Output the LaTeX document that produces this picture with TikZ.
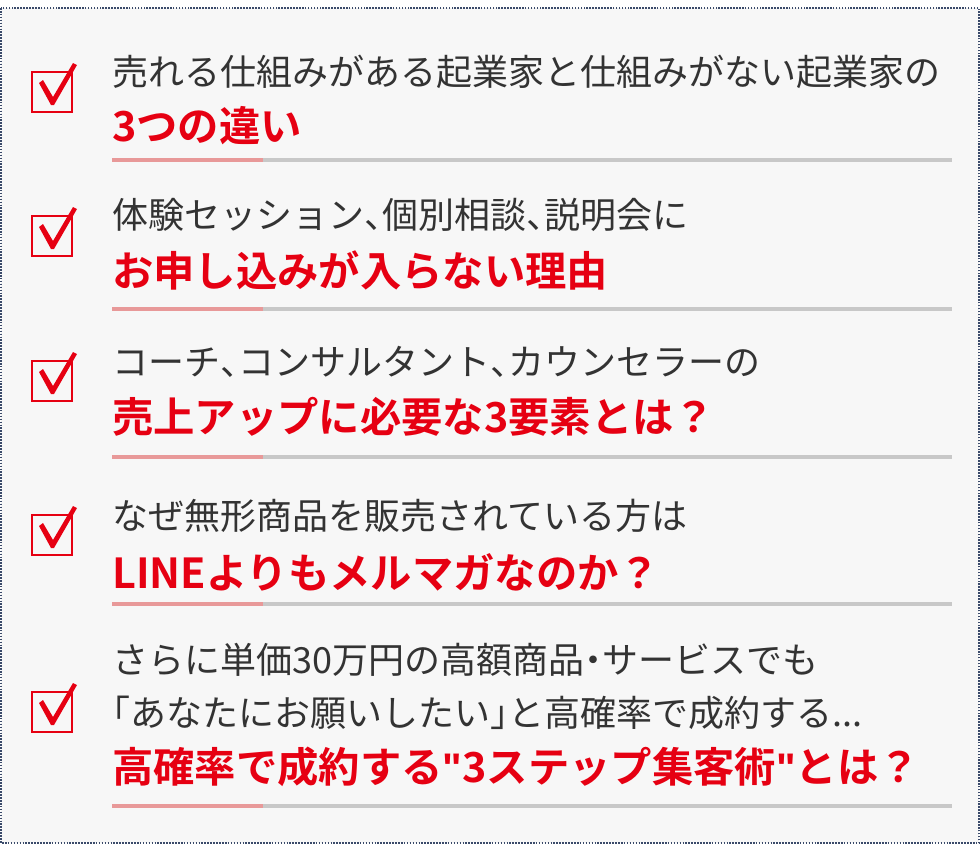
\documentclass[tikz,border=0pt]{standalone}
\usepackage{fontspec}
\setmainfont{Noto Sans CJK JP}[BoldFont={Noto Sans CJK JP Bold}]
\newfontfamily\lat{Liberation Sans}
\definecolor{tx}{HTML}{333333}
\definecolor{rd}{HTML}{E60012}
\definecolor{ln}{HTML}{C8C8C8}
\definecolor{lr}{HTML}{E89999}
\definecolor{bd}{HTML}{3A4A6A}
\newcommand\tn{\makebox[0.5em][l]{、}}
\newcommand\lk{\makebox[0.5em][r]{「}}
\newcommand\rk{\makebox[0.5em][l]{」}}
\newcommand\nk{\makebox[0.5em][c]{・}}
\newcommand\dq{{\lat\bfseries\char"22\relax}}
\tikzset{
 nl/.style={anchor=west,inner sep=0,text=tx,font=\fontsize{27}{30}\selectfont},
 bl/.style={anchor=west,inner sep=0,text=rd,font=\fontsize{31}{34}\selectfont\bfseries},
}
\newcommand\chk[2]{%
 \draw[rd,line width=2pt] (#1-20,#2-20) rectangle (#1+20,#2+20);
 \fill[rd] (#1-13,#2-9) -- (#1-9,#2-12) -- (#1+1,#2+5) -- (#1+21,#2-29) -- (#1+25,#2-27) -- (#1+2,#2+13) -- (#1-1,#2+13) -- cycle;}
\newcommand\uline[1]{%
 \draw[ln,line width=2.5pt] (263,#1) -- (952,#1);
 \draw[lr,line width=2.5pt] (112,#1) -- (263,#1);}
\begin{document}
\begin{tikzpicture}[x=0.75pt,y=-0.75pt]
\useasboundingbox (0,0) rectangle (980,854);
\fill[white!97!black] (1,8) rectangle (979,843);
\draw[bd,densely dotted,line width=1.2pt] (1,8) rectangle (979,843);
\chk{52}{92}\chk{52}{236}\chk{52}{381}\chk{52}{535}\chk{52}{712}
\node[nl] (a1) at (112,72) {売れる仕組みがある起業家と仕組みがない起業家の};
\node[bl] (b1) at (112,126) {3つの違い};
\uline{160}
\node[nl] (a2) at (112,215) {体験セッション\tn 個別相談\tn 説明会に};
\node[bl] (b2) at (112,270) {お申し込みが入らない理由};
\uline{309}
\node[nl] (a3) at (112,362) {コーチ\tn コンサルタント\tn カウンセラーの};
\node[bl] (b3) at (112,417) {売上アップに必要な3要素とは？};
\uline{457}
\node[nl] (a4) at (112,516) {なぜ無形商品を販売されている方は};
\node[bl] (b4) at (112,572) {LINEよりもメルマガなのか？};
\uline{604}
\node[nl] (a5) at (112,660) {さらに単価30万円の高額商品\nk サービスでも};
\node[nl] (c5) at (112,713) {\lk あなたにお願いしたい\rk と高確率で成約する...};
\node[bl] (b5) at (112,767) {高確率で成約する\dq 3ステップ集客術\dq とは？};
\uline{806}
\end{tikzpicture}
\end{document}
